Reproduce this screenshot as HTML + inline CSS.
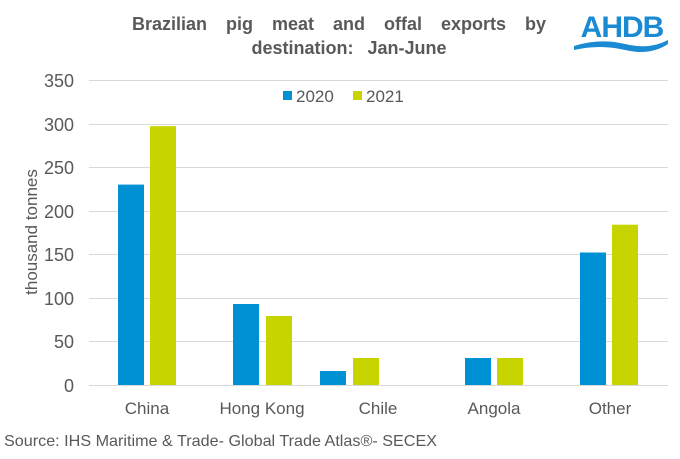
<!DOCTYPE html>
<html><head><meta charset="utf-8"><style>
body{margin:0;background:#fff;}
svg text{font-family:"Liberation Sans",Arial,sans-serif;}
</style></head><body>
<svg width="680" height="454" xmlns="http://www.w3.org/2000/svg">
<rect width="680" height="454" fill="#fff"/>
<text x="339" y="30" text-anchor="middle" word-spacing="14" font-size="18" font-weight="bold" fill="#595959">Brazilian pig meat and offal exports by</text>
<text x="349" y="54" text-anchor="middle" word-spacing="9" font-size="18" font-weight="bold" fill="#595959">destination: Jan-June</text>
<text x="622" y="37" text-anchor="middle" font-size="30" font-weight="bold" fill="#1a8bd3" letter-spacing="-1">AHDB</text>
<path d="M574 46 Q600 38 625 44 Q650 50 668 40 L668 44 Q650 56 625 50 Q600 44 574 50 Z" fill="#1a8bd3"/>
<g stroke="#d9d9d9" stroke-width="1">
<line x1="89" x2="668" y1="80.5" y2="80.5"/>
<line x1="89" x2="668" y1="124.5" y2="124.5"/>
<line x1="89" x2="668" y1="167.5" y2="167.5"/>
<line x1="89" x2="668" y1="211.5" y2="211.5"/>
<line x1="89" x2="668" y1="254.5" y2="254.5"/>
<line x1="89" x2="668" y1="298.5" y2="298.5"/>
<line x1="89" x2="668" y1="341.5" y2="341.5"/>
<line x1="89" x2="668" y1="385.5" y2="385.5"/>
</g>
<g font-size="18" fill="#595959" text-anchor="end">
<text x="74" y="87">350</text><text x="74" y="131">300</text><text x="74" y="174">250</text>
<text x="74" y="218">200</text><text x="74" y="261">150</text><text x="74" y="305">100</text>
<text x="74" y="348">50</text><text x="74" y="392">0</text>
</g>
<text transform="translate(37,232) rotate(-90)" text-anchor="middle" font-size="17" fill="#595959">thousand tonnes</text>
<g fill="#0090d4">
<rect x="118" y="184.6" width="26" height="200.4"/>
<rect x="233" y="304" width="26" height="81"/>
<rect x="320" y="371" width="26" height="14"/>
<rect x="465" y="358" width="26" height="27"/>
<rect x="580" y="252.5" width="26" height="132.5"/>
</g>
<g fill="#c8d400">
<rect x="150" y="126.2" width="26" height="258.8"/>
<rect x="266" y="316" width="26" height="69"/>
<rect x="353" y="358" width="26" height="27"/>
<rect x="497" y="358" width="26" height="27"/>
<rect x="612" y="224.7" width="26" height="160.3"/>
</g>
<g font-size="17" fill="#595959" text-anchor="middle">
<text x="147" y="414">China</text><text x="262" y="414">Hong Kong</text><text x="378" y="414">Chile</text>
<text x="494" y="414">Angola</text><text x="610" y="414">Other</text>
</g>
<rect x="283" y="91" width="9" height="9" fill="#0090d4"/>
<text x="296" y="102" font-size="17" fill="#595959">2020</text>
<rect x="353" y="91" width="9" height="9" fill="#c8d400"/>
<text x="366" y="102" font-size="17" fill="#595959">2021</text>
<text x="4" y="446" textLength="433" lengthAdjust="spacingAndGlyphs" font-size="16" fill="#595959">Source: IHS Maritime &amp; Trade- Global Trade Atlas®- SECEX</text>
</svg>
</body></html>
